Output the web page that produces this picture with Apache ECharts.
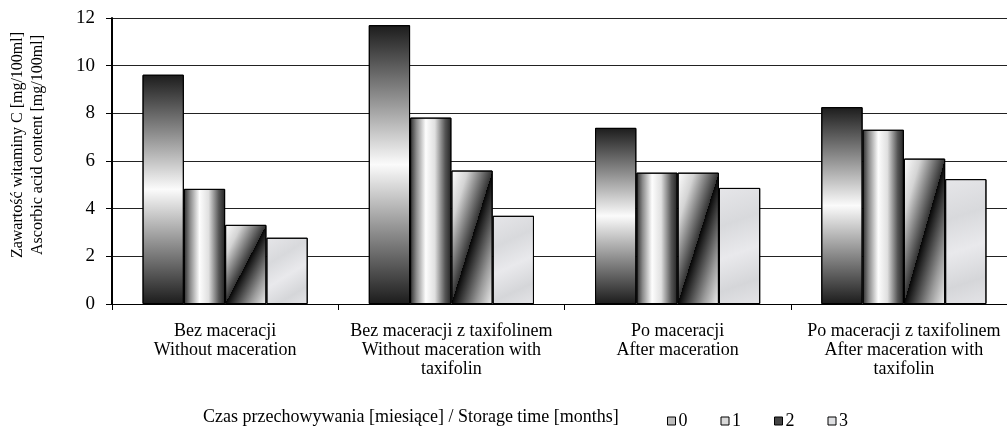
<!DOCTYPE html>
<html>
<head>
<meta charset="utf-8">
<script src="https://cdn.jsdelivr.net/npm/echarts@6/dist/echarts.min.js"></script>
<style>
  html, body { margin: 0; padding: 0; background: #fff; }
  #chart { width: 1007px; height: 430px; }
</style>
</head>
<body>
<div id="chart"></div>
<script>
// grupy (oś X)
const categories = [
	'Bez maceracji\nWithout maceration',
	'Bez maceracji z taxifolinem\nWithout maceration with\ntaxifolin',
	'Po maceracji\nAfter maceration',
	'Po maceracji z taxifolinem\nAfter maceration with\ntaxifolin'
];
// czas przechowywania [miesiące]
const months = ['0', '1', '2', '3'];
// zawartość witaminy C, po jednej tablicy na miesiąc
const month0 = [9.62, 11.7, 7.39, 8.26];
const month1 = [4.83, 7.82, 5.51, 7.31];
const month2 = [3.32, 5.6, 5.51, 6.1];
const month3 = [2.78, 3.7, 4.87, 5.24];
const yTicks = [0, 2, 4, 6, 8, 10, 12];

const FONT = 'Liberation Serif';
const seriesData = [month0, month1, month2, month3];

// wypełnienia słupków - naśladują gradienty z Excela
const fillTop = new echarts.graphic.LinearGradient(0, 0, 0, 1, [
	{ offset: 0, color: '#1c1c1c' },
	{ offset: 0.25, color: '#8a8a8a' },
	{ offset: 0.5, color: '#fbfbfb' },
	{ offset: 0.75, color: '#8a8a8a' },
	{ offset: 1, color: '#1c1c1c' }
]);
const fillSide = new echarts.graphic.LinearGradient(0, 0, 1, 0, [
	{ offset: 0, color: '#2a2a2a' },
	{ offset: 0.15, color: '#8a8a8a' },
	{ offset: 0.38, color: '#fdfdfd' },
	{ offset: 0.6, color: '#e0e0e0' },
	{ offset: 0.85, color: '#555' },
	{ offset: 1, color: '#222' }
]);
const fillMarble = new echarts.graphic.LinearGradient(0, 0, 1, 1, [
	{ offset: 0, color: '#e6e6e9' },
	{ offset: 0.3, color: '#d8d9dc' },
	{ offset: 0.55, color: '#e9e9ec' },
	{ offset: 0.8, color: '#d5d6d9' },
	{ offset: 1, color: '#e4e4e7' }
]);
// gradient ukośny: linia podziału biegnie po przekątnej słupka (lewy dół -> prawy góra)
function diagonalFill(w, h) {
	const L2 = w * w + h * h;
	return new echarts.graphic.LinearGradient(0, 0, 2 * h * h / L2, 2 * w * w / L2, [
		{ offset: 0, color: '#ffffff' },
		{ offset: 0.2, color: '#d4d4d4' },
		{ offset: 0.5, color: '#333' },
		{ offset: 0.5, color: '#050505' },
		{ offset: 0.8, color: '#9a9a9a' },
		{ offset: 1, color: '#efefef' }
	]);
}
const legendFills = ['#bdbdbd', '#d9d9d9', '#444', '#dedfe2'];

const chart = echarts.init(document.getElementById('chart'), null, { renderer: 'canvas' });

const option = {
	animation: false,
	backgroundColor: '#fff',
	textStyle: { fontFamily: FONT, color: '#000' },
	title: {
		text: 'Czas przechowywania [miesiące] / Storage time [months]',
		left: 203,
		top: 408,
		padding: 0,
		textStyle: { fontFamily: FONT, fontSize: 18, fontWeight: 'normal', color: '#000' }
	},
	legend: {
		data: months.map((m, i) => ({
			name: m,
			itemStyle: { color: legendFills[i], borderColor: '#000', borderWidth: 1 }
		})),
		left: 662,
		top: 407,
		itemWidth: 8,
		itemHeight: 8,
		itemGap: 33,
		icon: 'rect',
		textStyle: { fontFamily: FONT, fontSize: 18, color: '#000', padding: [0, 0, 0, -2] }
	},
	graphic: [{
		type: 'text',
		x: 28,
		y: 145,
		rotation: Math.PI / 2,
		style: {
			text: 'Zawartość witaminy C [mg/100ml]\nAscorbic acid content [mg/100ml]',
			font: '16px "Liberation Serif"',
			lineHeight: 20,
			fill: '#000',
			align: 'center',
			verticalAlign: 'middle'
		}
	}],
	grid: {
		left: 112,
		top: 18,
		width: 905,
		height: 286,
		outerBoundsMode: 'none',
		containLabel: false
	},
	xAxis: {
		type: 'category',
		data: categories,
		axisLine: { lineStyle: { color: '#000', width: 1 } },
		axisTick: { show: true, alignWithLabel: false, length: 6, lineStyle: { color: '#000' } },
		axisLabel: {
			interval: 0,
			margin: 18,
			fontFamily: FONT,
			fontSize: 18,
			lineHeight: 19,
			color: '#000'
		}
	},
	yAxis: {
		type: 'value',
		min: yTicks[0],
		max: yTicks[yTicks.length - 1],
		interval: 2,
		axisLine: { show: true, lineStyle: { color: '#000', width: 2 } },
		axisTick: { show: true, length: 6, lineStyle: { color: '#000' } },
		axisLabel: { margin: 17, fontFamily: FONT, fontSize: 19, color: '#000' },
		splitLine: { show: true, lineStyle: { color: '#222', width: 1 } }
	},
	series: seriesData.map((vals, i) => ({
		name: months[i],
		type: 'bar',
		data: vals,
		barGap: '0%',
		barCategoryGap: '27%',
		itemStyle: {
			color: [fillTop, fillSide, '#777', fillMarble][i],
			borderColor: '#000',
			borderWidth: 1
		}
	}))
};

chart.setOption(option);

// seria "2": gradient liczony dla każdego słupka z jego rozmiaru w pikselach
const zeroPx = chart.convertToPixel({ yAxisIndex: 0 }, 0);
const barW = (chart.convertToPixel({ xAxisIndex: 0 }, 1) - chart.convertToPixel({ xAxisIndex: 0 }, 0)) * 0.73 / 4;
chart.setOption({
	series: [{}, {}, {
		data: month2.map(v => ({
			value: v,
			itemStyle: { color: diagonalFill(barW, zeroPx - chart.convertToPixel({ yAxisIndex: 0 }, v)) }
		}))
	}, {}]
});
</script>
</body>
</html>
